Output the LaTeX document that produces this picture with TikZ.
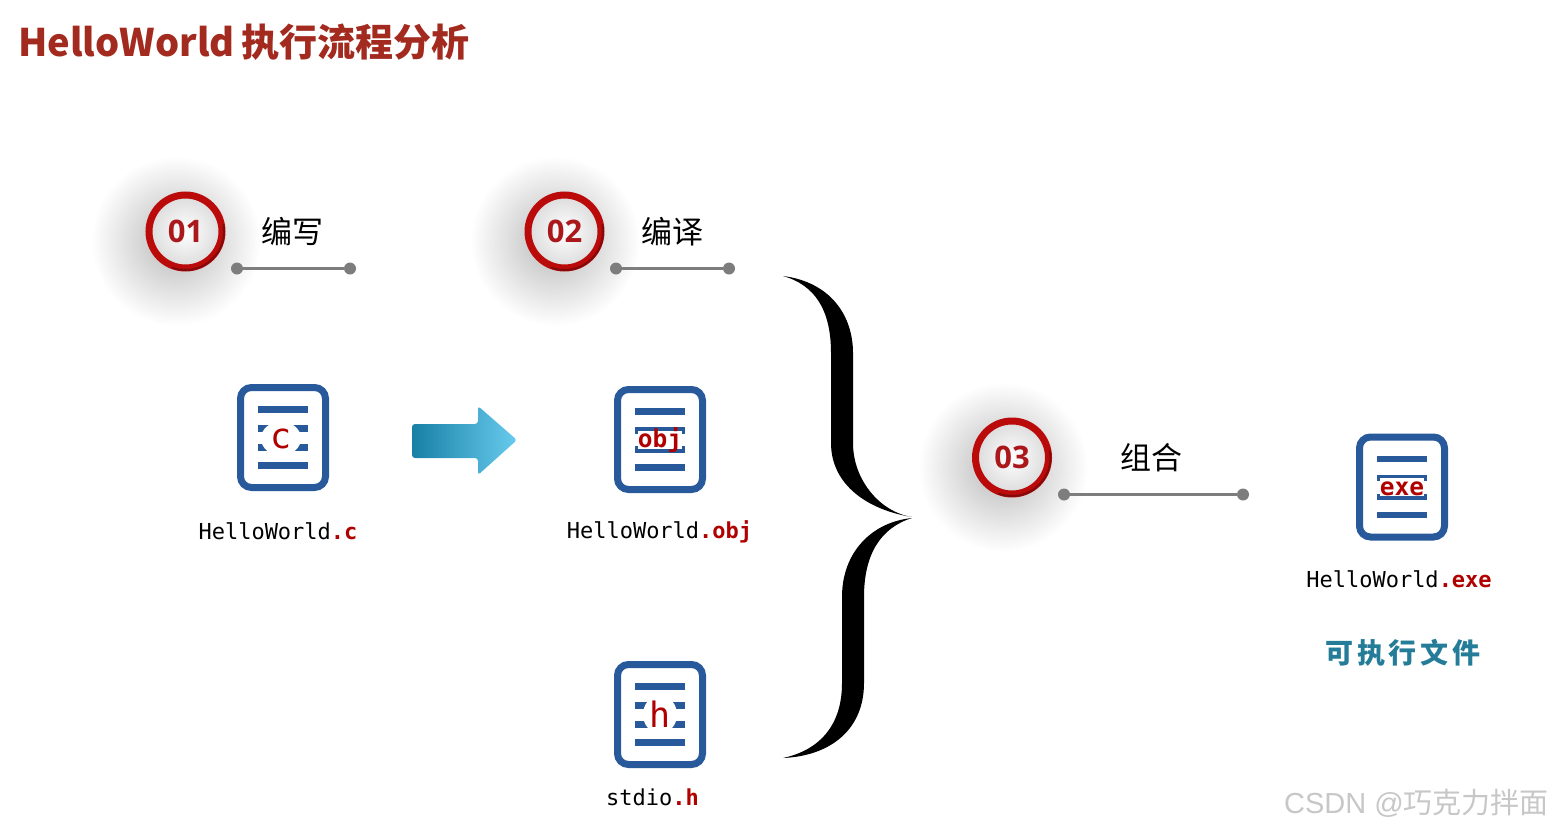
\documentclass[tikz,border=0pt]{standalone}
\usepackage{fontspec}
\usepackage{tikz}
\usetikzlibrary{shapes.geometric, positioning}
\setmainfont{Open Sans}
\setmonofont{DejaVu Sans Mono}
\newfontfamily\cjkfont{Noto Sans CJK SC}
\newfontfamily\cjkspaced[LetterSpace=14]{Noto Sans CJK SC}
\newfontfamily\markfont{Liberation Sans}
\definecolor{titlered}{RGB}{163,42,30}
\definecolor{ringred}{RGB}{186,10,10}
\definecolor{ringdark}{RGB}{130,10,10}
\definecolor{numred}{RGB}{170,24,28}
\definecolor{extred}{RGB}{176,0,0}
\definecolor{docblue}{RGB}{40,90,155}
\definecolor{dotgray}{RGB}{125,125,125}
\definecolor{exeteal}{RGB}{36,124,152}
\definecolor{arrowdark}{RGB}{24,128,165}
\definecolor{arrowmid}{RGB}{50,160,196}
\definecolor{arrowlight}{RGB}{104,203,238}

\begin{document}
\begin{tikzpicture}[
    x=1pt, y=-1pt,
    badge/.style={circle, draw=ringred, line width=7pt, minimum size=73pt, inner sep=0pt, inner color=white, outer color=black!14, text=numred, font=\fontsize{31}{31}\selectfont\bfseries},
    badgeshadow/.style={inner color=black!28, outer color=white},
    steptext/.style={font=\cjkfont\fontsize{31}{31}\selectfont, inner sep=0pt},
    dot/.style={circle, fill=dotgray, minimum size=12pt, inner sep=0pt},
    link/.style={draw=dotgray, line width=2.5pt},
    docframe/.style={rectangle, draw=docblue, fill=white, line width=7pt, rounded corners=11pt, minimum width=85pt, minimum height=100pt, inner sep=0pt},
    docbar/.style={draw=docblue, line width=6.5pt},
    filename/.style={font=\ttfamily\fontsize{22}{22}\selectfont, inner sep=0pt},
    extmark/.style={fill=white, text=extred, inner sep=0pt, font=\ttfamily\bfseries\fontsize{24.5}{24.5}\selectfont, minimum width=44pt, text height=17pt, text depth=1pt},
    extround/.style={ellipse, fill=white, text=extred, inner sep=0pt, minimum width=40pt, minimum height=34pt, font=\ttfamily\fontsize{35}{35}\selectfont}
]
    \useasboundingbox (0,0) rectangle (1553,830);

    % soft shadows behind the badges
    \foreach \sx/\sy in {176/241, 555/241, 1003/467}
        \shade[badgeshadow] (\sx,\sy) circle (85);

    \node (title) [anchor=west, inner sep=0pt, text=titlered, font=\cjkfont\bfseries\fontsize{38}{38}\selectfont] at (18,42) {HelloWorld\hspace{7pt}执行流程分析};

    % steps
    \node (one) [badge] at (185.5,231.5) {01};
    \node (two) [badge] at (564.5,231.5) {02};
    \node (three) [badge] at (1012,457.5) {03};
    \foreach \nm in {one,two,three}
        \draw[ringdark, line width=2pt, line cap=round] ([shift={(110:38.5)}]\nm.center) arc[start angle=110, end angle=-10, radius=38.5];

    \node (write) [steptext] at (292,232) {编写};
    \node (compile) [steptext] at (672,232) {编译};
    \node (link) [steptext] at (1151,458) {组合};

    \node (onea) [dot] at (237,268.5) {};
    \node (oneb) [dot] at (350,268.5) {};
    \node (twoa) [dot] at (616,268.5) {};
    \node (twob) [dot] at (729,268.5) {};
    \node (threea) [dot] at (1064,494.5) {};
    \node (threeb) [dot] at (1243,494.5) {};
    \draw[link] (onea) -- (oneb);
    \draw[link] (twoa) -- (twob);
    \draw[link] (threea) -- (threeb);

    % file icons
    \foreach \nm/\cx/\cy in {cfile/283/437.5, objfile/660/439.5, hfile/660/714.5, exefile/1402/487} {
        \node (\nm) [docframe] at (\cx,\cy) {};
        \foreach \dy in {-28,-9,10,28}
            \draw[docbar] ([xshift=-25pt,yshift=-\dy pt]\nm.center) -- ([xshift=25pt,yshift=-\dy pt]\nm.center);
    }
    \node (cmark) [extround, yshift=-1pt, xshift=-2pt] at (cfile) {c};
    \node (objmark) [extmark] at (objfile) {obj};
    \node (hmark) [extround, minimum width=34pt, minimum height=38pt] at (hfile) {h};
    \node (exemark) [extmark] at (exefile) {exe};

    \node (cname) [filename] at (278,531) {HelloWorld{\color{extred}\bfseries .c}};
    \node (objname) [filename] at (659.5,532) {HelloWorld{\color{extred}\bfseries .obj}};
    \node (hname) [filename] at (652.5,797) {stdio{\color{extred}\bfseries .h}};
    \node (exename) [filename] at (1399,579) {HelloWorld{\color{extred}\bfseries .exe}};
    \node (exenote) [inner sep=0pt, text=exeteal, font=\cjkspaced\bfseries\fontsize{28}{28}\selectfont] at (1403,653) {可执行文件};

    % arrow between c and obj
    \shade[left color=arrowdark, middle color=arrowmid, right color=arrowlight, shading angle=90, rounded corners=3pt]
        (412,424) -- (478,424) -- (478,406) -- (517,440) -- (478,475) -- (478,458) -- (412,458) -- cycle;

    % big brace
    \fill[black] (783,276) .. controls (830,282) and (853,315) .. (853,353) -- (853,443)
        .. controls (853,480) and (880,512) .. (912,517)
        .. controls (868,510) and (831,485) .. (831,443) -- (831,353)
        .. controls (831,310) and (815,285) .. (783,276) -- cycle;
    \fill[black] (912,518) .. controls (872,522) and (842,552) .. (842,597) -- (842,683)
        .. controls (842,725) and (820,750) .. (783,758)
        .. controls (830,756) and (864,730) .. (864,683) -- (864,597)
        .. controls (864,555) and (880,528) .. (912,518) -- cycle;

    \node (mark) [anchor=east, inner sep=0pt, text=black!22, font=\cjkfont\fontsize{29}{29}\selectfont] at (1549,803) {{\markfont CSDN @}巧克力拌面};
\end{tikzpicture}
\end{document}
